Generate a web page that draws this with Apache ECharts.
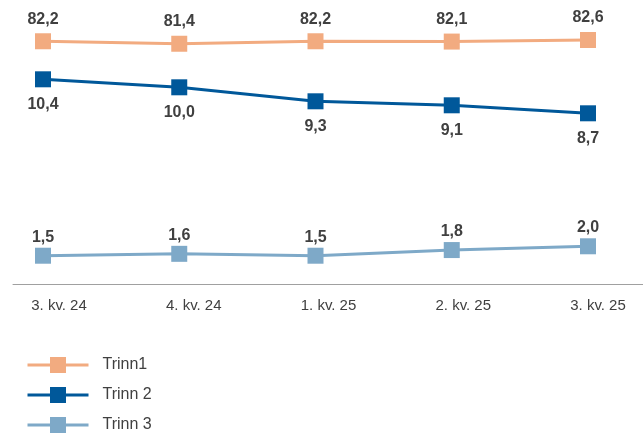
<!DOCTYPE html>
<html>
<head>
<meta charset="utf-8">
<script src="https://cdn.jsdelivr.net/npm/echarts@6/dist/echarts.min.js"></script>
<style>
html,body{margin:0;padding:0;background:#fff;}
#chart{width:643px;height:434px;}
</style>
</head>
<body>
<div id="chart"></div>
<script>
const categories = ['3. kv. 24', '4. kv. 24', '1. kv. 25', '2. kv. 25', '3. kv. 25'];
const seriesNames = ['Trinn1', 'Trinn 2', 'Trinn 3'];
const trinn1 = [82.2, 81.4, 82.2, 82.1, 82.6];
const trinn2 = [10.4, 10.0, 9.3, 9.1, 8.7];
const trinn3 = [1.5, 1.6, 1.5, 1.8, 2.0];
const colors = ['#F2AB80', '#00589A', '#7EA9C8'];

const chart = echarts.init(document.getElementById('chart'), null, {renderer: 'canvas'});
const fmt = p => p.value.toFixed(1).replace('.', ',');
const FONT = 'Liberation Sans, Arial, sans-serif';
const labelBase = {show: true, formatter: fmt, fontFamily: FONT, fontSize: 16, fontWeight: 'bold', color: '#404040'};

function mk(name, data, idx, pos, dist) {
  return {
    name: name, type: 'line', data: data, xAxisIndex: 0, yAxisIndex: idx,
    symbol: 'rect', symbolSize: 16, showSymbol: true,
    lineStyle: {width: 3, color: colors[idx]},
    itemStyle: {color: colors[idx]},
    label: Object.assign({position: pos, distance: dist}, labelBase),
    emphasis: {disabled: true}, animation: false
  };
}

chart.setOption({
  animation: false,
  grid: [
    {left: 43, right: 55, top: 20, bottom: 150},
    {left: 13, right: 0, top: 20, bottom: 150},
    {left: 59, right: 45, top: 20, bottom: 150}
  ],
  xAxis: [
    {type: 'category', gridIndex: 0, data: categories, boundaryGap: false,
     axisLine: {show: false}, axisTick: {show: false}, splitLine: {show: false},
     axisLabel: {show: false}},
    {type: 'category', gridIndex: 1, data: categories, boundaryGap: true,
     axisLine: {show: true, lineStyle: {color: '#A0A0A0', width: 1}}, axisTick: {show: false},
     axisLabel: {show: false}, splitLine: {show: false}},
    {type: 'category', gridIndex: 2, data: categories, boundaryGap: false,
     axisLine: {show: false}, axisTick: {show: false}, splitLine: {show: false},
     axisLabel: {margin: 14, fontFamily: FONT, fontSize: 15, color: '#404040'}}
  ],
  yAxis: [
    {type: 'value', gridIndex: 0, min: 3.9, max: 89.06, show: false},
    {type: 'value', gridIndex: 0, min: 0.165, max: 13.365, show: false},
    {type: 'value', gridIndex: 0, min: 0, max: 14, show: false},
    {type: 'value', gridIndex: 1, min: 0, max: 1, show: false},
    {type: 'value', gridIndex: 2, min: 0, max: 1, show: false}
  ],
  legend: {
    orient: 'vertical', left: 26, top: 357, height: 110, padding: 0,
    itemWidth: 61, itemHeight: 20, itemGap: 14,
    lineStyle: {width: 3},
    textStyle: {fontFamily: FONT, fontSize: 16, color: '#404040', padding: [0, 0, 0, 9]},
    data: seriesNames
  },
  series: [
    mk(seriesNames[0], trinn1, 0, 'top', 6),
    mk(seriesNames[1], trinn2, 1, 'bottom', 9),
    mk(seriesNames[2], trinn3, 2, 'top', 2.5)
  ]
});
</script>
</body>
</html>
